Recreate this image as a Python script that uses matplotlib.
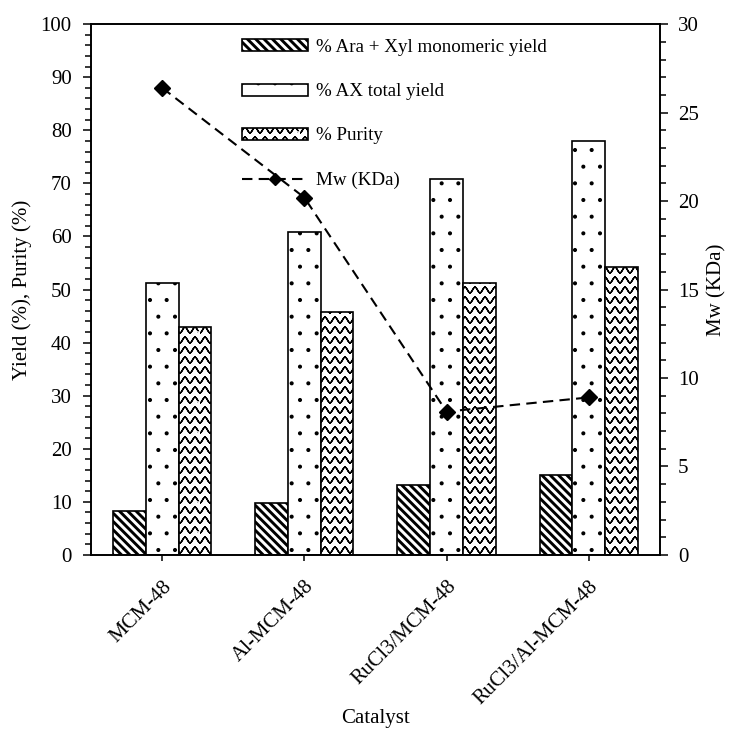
import numpy as np
import matplotlib
matplotlib.use('Agg')
import matplotlib.pyplot as plt
from matplotlib import hatch as mhatch
from matplotlib.path import Path
from matplotlib.lines import Line2D
from matplotlib.ticker import MultipleLocator

# data
catalysts = ['MCM-48', 'Al-MCM-48', 'RuCl3/MCM-48', 'RuCl3/Al-MCM-48']
mono_yield = [8.3, 9.8, 13.2, 15.0]
ax_yield = [51.3, 60.8, 70.8, 78.0]
purity = [43.0, 45.8, 51.2, 54.3]
mw = [26.4, 20.2, 8.1, 8.9]


# wavy hatch, bound to the '*' character in place of the star pattern.
# Agg fills hatch paths too, so every row runs out and back on itself.
class WaveHatch(mhatch.HatchPatternBase):
    def __init__(self, hatch, density):
        self.num_rows = int(hatch.count('*') * density * 5 / 3)
        self.num_waves = self.num_rows
        self.samples = 8
        self.per_row = 2 * (self.num_waves * self.samples + 1)
        self.num_vertices = (self.num_rows + 1) * self.per_row if self.num_rows else 0

    def set_vertices_and_codes(self, vertices, codes):
        xs = np.linspace(0.0, 1.0, self.per_row // 2)
        amp = 0.3 / self.num_rows
        wave = -amp * np.cos(2 * np.pi * self.num_waves * xs)
        xs = np.concatenate([xs, xs[::-1]])
        wave = np.concatenate([wave, wave[::-1]])
        for i, y0 in enumerate(np.linspace(0.0, 1.0, self.num_rows + 1)):
            s = slice(i * self.per_row, (i + 1) * self.per_row)
            vertices[s, 0] = xs
            vertices[s, 1] = y0 + wave
            codes[s] = Path.LINETO
            codes[i * self.per_row] = Path.MOVETO


mhatch._hatch_types = [h for h in mhatch._hatch_types if h is not mhatch.Stars] + [WaveHatch]
mhatch.SmallFilledCircles.size = 0.08


def hatch_lw(artist, lw):
    if hasattr(artist, 'set_hatch_linewidth'):
        artist.set_hatch_linewidth(lw)
    orig = artist.draw

    def draw(renderer):
        with plt.rc_context({'hatch.linewidth': lw}):
            orig(renderer)
    artist.draw = draw


plt.rcParams['font.family'] = ['Liberation Serif', 'DejaVu Serif']
plt.rcParams['font.size'] = 15
plt.rcParams['axes.linewidth'] = 1.2
plt.rcParams['hatch.linewidth'] = 1.0

fig = plt.figure(figsize=(7.29, 7.33), dpi=100)
ax = fig.add_axes([0.125, 0.243, 0.78, 0.724])
ax2 = ax.twinx()

x = np.arange(len(catalysts))
w = 0.23
diag = chr(92) * 4

specs = [(mono_yield, diag, 2.1, '% Ara + Xyl monomeric yield'),
         (ax_yield, '.', 1.0, '% AX total yield'),
         (purity, '*', 1.0, '% Purity')]
handles = []
for i, (vals, hatch, hlw, label) in enumerate(specs):
    plt.rcParams['hatch.linewidth'] = hlw
    bars = ax.bar(x + (i - 1) * w, vals, w, color='white', edgecolor='black',
                  linewidth=1.2, hatch=hatch, label=label)
    for b in bars:
        hatch_lw(b, hlw)
    handles.append(bars)
plt.rcParams['hatch.linewidth'] = 1.0

ax2.plot(x, mw, color='black', linestyle='--', dashes=(5, 3), linewidth=1.5,
         marker='D', markersize=8.5)
line_handle = Line2D([], [], color='black', linestyle='--', dashes=(5, 3),
                     linewidth=1.5, marker='D', markersize=6.5)

ax.set_xlim(-0.5, 3.5)
ax.set_ylim(0, 100)
ax2.set_ylim(0, 30)
ax.yaxis.set_major_locator(MultipleLocator(10))
ax.yaxis.set_minor_locator(MultipleLocator(2))
ax2.yaxis.set_major_locator(MultipleLocator(5))
ax2.yaxis.set_minor_locator(MultipleLocator(1))

ax.set_xticks(x)
ax.set_xticklabels(catalysts, rotation=45, ha='right', va='top', rotation_mode='anchor')
ax.tick_params(axis='x', direction='out', length=4, width=1.1, pad=12)
ax.tick_params(axis='y', which='major', direction='out', length=6, width=1.1, pad=8)
ax.tick_params(axis='y', which='minor', direction='out', length=4, width=1.1)
ax2.tick_params(axis='y', which='major', direction='out', length=6, width=1.1, pad=7)
ax2.tick_params(axis='y', which='minor', direction='out', length=4, width=1.1)

ax.set_ylabel('Yield (%), Purity (%)', labelpad=6)
ax2.set_ylabel('Mw (KDa)', labelpad=6)
ax.set_xlabel('Catalyst')
ax.xaxis.set_label_coords(0.5, -0.291)

leg = ax2.legend(handles + [line_handle],
                 [s[3] for s in specs] + ['Mw (KDa)'],
                 loc='upper left', bbox_to_anchor=(0.265, 0.972), frameon=False,
                 borderpad=0, borderaxespad=0, handlelength=3.5, handleheight=0.6,
                 handletextpad=0.4, labelspacing=1.43, fontsize=13.7)
for patch in leg.get_patches():
    hatch_lw(patch, 2.1 if patch.get_hatch() == diag else 1.0)

fig.savefig('out.png', dpi=100)
